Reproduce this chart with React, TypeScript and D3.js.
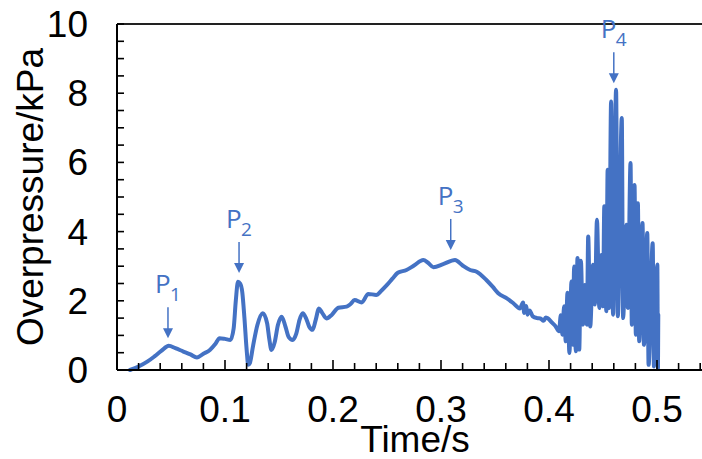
import React from "react";
import * as d3 from "d3";

const times: number[] = [
  0.012, 0.02, 0.028, 0.035, 0.041, 0.048, 0.054, 0.061, 0.068, 0.074, 0.08, 0.086, 0.091, 0.095, 0.1, 0.105,
  0.108, 0.11, 0.112, 0.114, 0.116, 0.118, 0.12, 0.1215, 0.123, 0.126, 0.13, 0.135, 0.139, 0.141, 0.143, 0.146,
  0.149, 0.1525, 0.156, 0.159, 0.1626, 0.166, 0.169, 0.172, 0.175, 0.178, 0.181, 0.184, 0.187, 0.19, 0.194, 0.199,
  0.205, 0.2126, 0.216, 0.22, 0.2266, 0.2327, 0.24, 0.245, 0.25, 0.255, 0.26, 0.268, 0.275, 0.2836, 0.288, 0.293,
  0.302, 0.313, 0.32, 0.327, 0.333, 0.342, 0.348, 0.353, 0.361, 0.367, 0.373, 0.376, 0.377, 0.379, 0.38, 0.382,
  0.385, 0.389, 0.392, 0.395, 0.397, 0.3985,
  0.4031, 0.4062, 0.4093, 0.4109, 0.4124, 0.414, 0.4155, 0.4171, 0.4189, 0.4208, 0.422, 0.4233, 0.4248, 0.4264,
  0.428, 0.4295, 0.4314, 0.4332, 0.4351, 0.4363, 0.4382, 0.4407, 0.4425, 0.4444, 0.4466, 0.4488, 0.45, 0.4512,
  0.4531, 0.4543, 0.4556, 0.4575, 0.4593, 0.4621, 0.4637, 0.4674, 0.4686, 0.4717, 0.473, 0.4755, 0.4767, 0.4792,
  0.4804, 0.4823, 0.4835, 0.4866, 0.4879, 0.491, 0.4922, 0.496, 0.4972, 0.5003, 0.5009, 0.5012,
];

const pressure: number[] = [
  0.0, 0.1, 0.24, 0.4, 0.55, 0.7, 0.63, 0.54, 0.45, 0.36, 0.47, 0.58, 0.75, 0.92, 0.9, 0.87,
  1.2, 2.0, 2.55, 2.5, 2.25, 1.5, 0.6, 0.15, 0.2, 0.7, 1.3, 1.64, 1.35, 0.9, 0.58, 0.8,
  1.3, 1.54, 1.25, 0.95, 0.87, 1.05, 1.45, 1.64, 1.5, 1.25, 1.16, 1.45, 1.78, 1.65, 1.49, 1.6,
  1.8, 1.83, 1.9, 2.02, 1.95, 2.2, 2.17, 2.3, 2.46, 2.64, 2.81, 2.89, 3.02, 3.18, 3.1, 2.97,
  3.06, 3.18, 3.02, 2.89, 2.84, 2.6, 2.4, 2.22, 2.07, 1.93, 1.78, 1.95, 1.65, 1.85, 1.6, 1.72,
  1.55, 1.5, 1.49, 1.42, 1.52, 1.5,
  1.36, 1.26, 1.12, 1.58, 1.02, 1.84, 0.83, 2.23, 0.49, 2.56, 0.73, 2.99, 0.54, 3.24,
  0.59, 3.16, 1.31, 2.46, 1.31, 3.86, 1.26, 3.04, 1.89, 4.34, 1.79, 3.33, 1.84, 4.73,
  1.7, 5.79, 1.79, 7.76, 1.6, 8.1, 1.55, 7.28, 1.5, 4.2, 1.79, 5.98, 1.31, 5.35,
  1.02, 4.82, 0.83, 4.25, 0.73, 3.96, 0.15, 3.66, 0.1, 3.05, 0.05, 1.6,
];

const annoNames: string[] = ["1", "2", "3", "4"];
const annoTimes: number[] = [0.0472, 0.113, 0.309, 0.46];
const annoValues: number[] = [0.92, 2.8, 3.47, 8.29];

const xTickLabels: number[] = [0, 0.1, 0.2, 0.3, 0.4, 0.5];
const yTickLabels: number[] = [0, 2, 4, 6, 8, 10];

const W = 702;
const H = 459;
const BLUE = "#4472C4";

export default function App() {
  const x = d3.scaleLinear().domain([0, 0.55]).range([117, 711]);
  const y = d3.scaleLinear().domain([0, 10]).range([370, 24]);
  const data = times.map((t, i) => [t, pressure[i]] as [number, number]);
  const line = d3
    .line<[number, number]>()
    .x((d) => x(d[0]))
    .y((d) => y(d[1]))
    .curve(d3.curveMonotoneX);

  const xMinor = d3.range(0, 55).filter((i) => i % 2 === 0).map((i) => i / 100);
  const yMinor = d3.range(0, 21).map((i) => i / 2);
  const font = "'Liberation Sans', Arial, sans-serif";
  const annoFont = "'Open Sans', 'Noto Sans', sans-serif";

  return (
    <svg width={W} height={H} style={{ position: "absolute", left: 0, top: 0, background: "#fff" }}>
      <rect x={0} y={0} width={W} height={H} fill="#fff" />
      <path d={line(data) || ""} fill="none" stroke={BLUE} strokeWidth={4} strokeLinejoin="round" strokeLinecap="round" />
      {/* axes */}
      <line x1={x(0)} x2={W} y1={y(10)} y2={y(10)} stroke="#222" strokeWidth={2} />
      <line x1={x(0)} x2={W} y1={y(0)} y2={y(0)} stroke="#000" strokeWidth={2} />
      <line x1={x(0)} x2={x(0)} y1={y(10)} y2={y(0)} stroke="#000" strokeWidth={2} />
      {xMinor.map((t, i) => {
        const major = Math.round(t * 100) % 10 === 0;
        return (
          <line key={"xt" + i} x1={x(t)} x2={x(t)} y1={y(0)} y2={y(0) - (major ? 10 : 7)} stroke="#000" strokeWidth={1.6} />
        );
      })}
      {yMinor.map((v, i) => (
        <line key={"yt" + i} x1={x(0)} x2={x(0) + 7} y1={y(v)} y2={y(v)} stroke="#000" strokeWidth={1.6} />
      ))}
      {xTickLabels.map((t) => (
        <text key={"xl" + t} x={x(t)} y={422} textAnchor="middle" fontFamily={font} fontSize={37} fill="#000">
          {String(t)}
        </text>
      ))}
      {yTickLabels.map((v) => (
        <text key={"yl" + v} x={88} y={y(v) + 13} textAnchor="end" fontFamily={font} fontSize={37} fill="#000">
          {String(v)}
        </text>
      ))}
      <text x={415} y={452} textAnchor="middle" fontFamily={font} fontSize={37} fill="#000">
        Time/s
      </text>
      <text
        transform={`translate(43,197) rotate(-90)`}
        textAnchor="middle"
        fontFamily={font}
        fontSize={37}
        fill="#000"
      >
        Overpressure/kPa
      </text>
      {annoNames.map((n, i) => {
        const ax = x(annoTimes[i]);
        const ay = y(annoValues[i]);
        return (
          <g key={"a" + n}>
            <line x1={ax} x2={ax} y1={ay - 31} y2={ay - 8} stroke={BLUE} strokeWidth={1.5} />
            <path d={`M${ax - 5},${ay - 10} L${ax + 5},${ay - 10} L${ax},${ay} Z`} fill={BLUE} />
            <text x={ax - 13} y={ay - 45} fontFamily={annoFont} fontSize={26} fill={BLUE}>
              P
            </text>
            <text x={ax + 2} y={ay - 37} fontFamily={annoFont} fontSize={19} fill={BLUE}>
              {n}
            </text>
          </g>
        );
      })}
    </svg>
  );
}
